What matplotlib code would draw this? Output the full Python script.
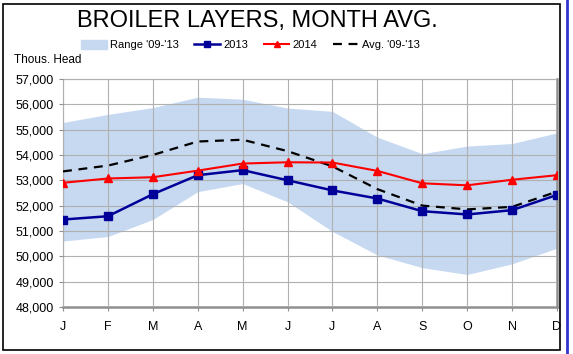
import numpy as np
import matplotlib.pyplot as plt
from matplotlib.patches import Rectangle
from matplotlib.lines import Line2D
from matplotlib.patches import Patch

plt.rcParams['font.family'] = ['Liberation Sans', 'DejaVu Sans']

months = ['J', 'F', 'M', 'A', 'M', 'J', 'J', 'A', 'S', 'O', 'N', 'D']
range_hi = [55280, 55600, 55870, 56280, 56200, 55850, 55720, 54700, 54050, 54350, 54450, 54870]
range_lo = [50600, 50780, 51450, 52550, 52870, 52150, 50980, 50050, 49550, 49280, 49700, 50320]
y2013 = [51450, 51580, 52450, 53200, 53400, 53000, 52600, 52280, 51780, 51650, 51820, 52420]
y2014 = [52900, 53070, 53120, 53380, 53660, 53710, 53700, 53370, 52880, 52800, 53020, 53200]
avg = [53350, 53580, 54000, 54530, 54600, 54150, 53550, 52650, 52000, 51850, 51950, 52550]

fig = plt.figure(figsize=(5.73, 3.54), dpi=100)
ax = fig.add_axes([0.11, 0.133, 0.862, 0.644])
x = np.arange(len(months))

ax.fill_between(x, range_lo, range_hi, color='#c6d9f1', lw=0, zorder=1)
ax.plot(x, avg, color='black', ls=(0, (4, 3)), lw=1.6, zorder=3)
ax.plot(x, y2013, color='#000099', marker='s', ms=6, lw=1.8, zorder=4)
ax.plot(x, y2014, color='#ff0000', marker='^', ms=6, lw=1.5, zorder=5)

ax.set_xlim(0, 11)
ax.set_ylim(48000, 57000)
ax.set_xticks(x)
ax.set_xticklabels(months, fontsize=9)
ax.set_yticks(np.arange(48000, 57001, 1000))
ax.set_yticklabels([f'{v:,}' for v in range(48000, 57001, 1000)], fontsize=9)
ax.grid(True, color='#b0b0b0', lw=0.8, zorder=2)
ax.set_axisbelow(False)
for s in ax.spines.values():
    s.set_color('#909090')
ax.spines['bottom'].set_linewidth(1.8)
ax.spines['right'].set_linewidth(1.8)
ax.tick_params(axis='both', color='#909090', length=3)
ax.tick_params(axis='x', pad=7)

fig.text(0.45, 0.94, 'BROILER LAYERS, MONTH AVG.', ha='center', va='center', fontsize=17)
fig.text(0.025, 0.83, 'Thous. Head', ha='left', va='center', fontsize=8.5)

handles = [
    Patch(color='#c6d9f1', label="Range '09-'13"),
    Line2D([], [], color='#000099', marker='s', ms=5, lw=1.8, label='2013'),
    Line2D([], [], color='#ff0000', marker='^', ms=5, lw=1.5, label='2014'),
    Line2D([], [], color='black', ls=(0, (4, 3)), lw=1.6, label="Avg. '09-'13"),
]
fig.legend(handles=handles, loc='center', bbox_to_anchor=(0.437, 0.873), ncol=4,
           frameon=False, fontsize=8, handlelength=2.3, handletextpad=0.3,
           columnspacing=1.4, handleheight=0.9)

fig.patches.append(Rectangle((0.005, 0.01), 0.972, 0.98, transform=fig.transFigure,
                             fill=False, ec='black', lw=1.2))
fig.add_artist(Line2D([0.99, 0.99], [0.0, 1.0], color='#3333cc', lw=2))

fig.savefig('out.png', dpi=100)
